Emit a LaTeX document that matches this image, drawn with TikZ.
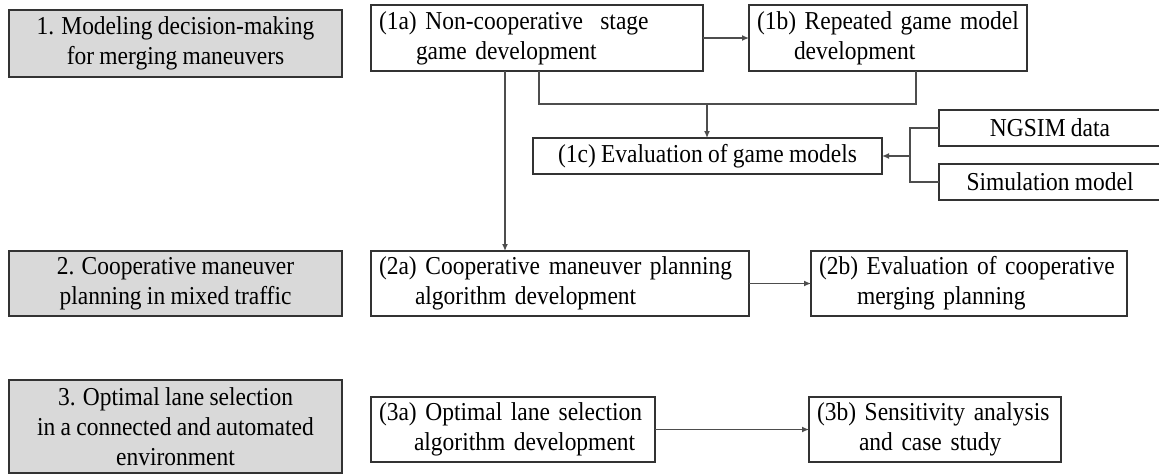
\documentclass[tikz,border=0pt]{standalone}
\usepackage{fontspec}
\setmainfont{Liberation Serif}[FakeStretch=0.91,WordSpace=0.9]
\usetikzlibrary{arrows.meta}
\definecolor{boxgray}{HTML}{D9D9D9}
\definecolor{edge}{HTML}{333333}
\definecolor{wire}{HTML}{4D4D4D}
\begin{document}
\begin{tikzpicture}[x=1pt,y=-1pt,
  every node/.style={font=\fontsize{25.8pt}{30pt}\selectfont, inner sep=0pt, outer sep=0pt},
  stagebox/.style={draw=edge, line width=1.3pt, fill=boxgray, align=center},
  taskbox/.style={draw=edge, line width=1.2pt, fill=white, align=left, inner xsep=8pt},
  plainbox/.style={draw=edge, line width=1.2pt, fill=white, align=center},
  wireline/.style={draw=wire, line width=1.3pt},
  arr/.style={wireline, -{Latex[length=7pt,width=6pt]}}]
\useasboundingbox (0,0) rectangle (1159,475);

% stage boxes (left column)
\node[stagebox, minimum width=333pt, minimum height=67pt] (s1) at (175.5,43.5)
  {1. Modeling decision-making\\for merging maneuvers};
\node[stagebox, minimum width=333pt, minimum height=65pt] (s2) at (175.5,283.5)
  {2. Cooperative maneuver\\planning in mixed traffic};
\node[stagebox, minimum width=333pt, minimum height=93pt] (s3) at (175.5,426.5)
  {3. Optimal lane selection\\in a connected and automated\\environment};

% task boxes: first line flush left, second line indented
\node[taskbox, minimum width=332pt, text width=316pt, minimum height=66pt] (t1a) at (537,38)
  {\mbox{(1a) Non-cooperative \ stage}\\\hspace*{37pt}\mbox{game development}};
\node[taskbox, minimum width=278pt, text width=262pt, minimum height=66pt] (t1b) at (888,38)
  {\mbox{(1b) Repeated game model}\\\hspace*{37pt}\mbox{development}};
\node[plainbox, minimum width=349pt, minimum height=36pt] (t1c) at (707.5,156)
  {(1c) Evaluation of game models};
\node[plainbox, minimum width=222pt, minimum height=36pt] (ngsim) at (1050,128)
  {NGSIM data};
\node[plainbox, minimum width=222pt, minimum height=36pt] (simm) at (1050,182)
  {Simulation model};
\node[taskbox, minimum width=378pt, text width=362pt, minimum height=65pt] (t2a) at (560,283.5)
  {\mbox{(2a) Cooperative maneuver planning}\\\hspace*{36pt}\mbox{algorithm development}};
\node[taskbox, minimum width=316pt, text width=300pt, minimum height=65pt] (t2b) at (969,283.5)
  {\mbox{(2b) Evaluation of cooperative}\\\hspace*{38pt}\mbox{merging planning}};
\node[taskbox, minimum width=284pt, text width=268pt, minimum height=65pt] (t3a) at (513,429.5)
  {\mbox{(3a) Optimal lane selection}\\\hspace*{35pt}\mbox{algorithm development}};
\node[taskbox, minimum width=252pt, text width=236pt, minimum height=65pt] (t3b) at (935,429.5)
  {\mbox{(3b) Sensitivity analysis}\\\hspace*{42pt}\mbox{and case study}};

% junction points of the connectors
\coordinate (ja) at (539,104);
\coordinate (jb) at (916,104);
\coordinate (jc) at (707,104);
\coordinate (jd) at (505,104);
\coordinate (je) at (910,156);

% connectors
\draw[arr] (t1a) -- (t1b);
\draw[wireline] (t1a.south -| ja) -- (ja) -- (jb) -- (t1b.south -| jb);
\draw[arr] (jc) -- (t1c.north -| jc);
\draw[arr] (t1a.south -| jd) -- (t2a.north -| jd);
\draw[wireline] (ngsim.west) -| (je) |- (simm.west);
\draw[arr] (je) -- (t1c.east);
\draw[arr] (t2a) -- (t2b);
\draw[arr] (t3a) -- (t3b);
\end{tikzpicture}
\end{document}
